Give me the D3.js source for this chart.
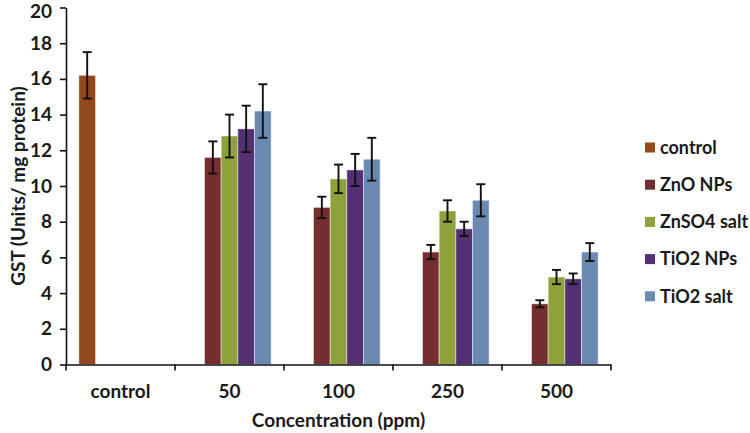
<!DOCTYPE html>
<html>
<head>
<meta charset="utf-8">
<script src="https://cdn.jsdelivr.net/npm/d3@7"></script>
<style>
  html, body { margin: 0; padding: 0; background: #fff; }
  svg { display: block; }
  text { font-family: Lato, "Open Sans", sans-serif; font-weight: bold; fill: #1a1a1a; }
</style>
</head>
<body>
<svg id="chart" width="750" height="433"></svg>
<script>
const categories = ["control", "50", "100", "250", "500"];
const seriesNames = ["control", "ZnO NPs", "ZnSO4 salt", "TiO2 NPs", "TiO2 salt"];
const seriesColors = ["#94481e", "#742e30", "#8ea13a", "#533073", "#6b8ab2"];
const controlValues  = [16.2, null, null, null, null];
const znoValues      = [null, 11.6, 8.8, 6.3, 3.4];
const znso4Values    = [null, 12.8, 10.4, 8.6, 4.9];
const tio2NpValues   = [null, 13.2, 10.9, 7.6, 4.8];
const tio2SaltValues = [null, 14.2, 11.5, 9.2, 6.3];
const controlErr  = [1.3, null, null, null, null];
const znoErr      = [null, 0.9, 0.6, 0.4, 0.2];
const znso4Err    = [null, 1.2, 0.8, 0.6, 0.4];
const tio2NpErr   = [null, 1.3, 0.9, 0.4, 0.3];
const tio2SaltErr = [null, 1.5, 1.2, 0.9, 0.5];
const yTicks = [0, 2, 4, 6, 8, 10, 12, 14, 16, 18, 20];
const yTitle = "GST (Units/ mg protein)";
const xTitle = "Concentration (ppm)";

(function () {
const allValues = [controlValues, znoValues, znso4Values, tio2NpValues, tio2SaltValues];
const allErr = [controlErr, znoErr, znso4Err, tio2NpErr, tio2SaltErr];

const data = [];
seriesNames.forEach((s, si) => {
  categories.forEach((c, ci) => {
    const v = allValues[si][ci];
    if (v != null) data.push({ series: s, si, cat: c, value: v, err: allErr[si][ci] });
  });
});

const svg = d3.select("#chart");
const pLeft = 66, pRight = 611, pTop = 7.5, pBottom = 364.5;

const y = d3.scaleLinear().domain([0, 20]).range([pBottom, pTop]);
const x0 = d3.scaleBand().domain(categories).range([pLeft, pRight]).paddingInner(0.236).paddingOuter(0.118);
const x1 = d3.scaleBand().domain(seriesNames).range([0, x0.bandwidth()]);
const color = d3.scaleOrdinal().domain(seriesNames).range(seriesColors);

// bars
svg.append("g").selectAll("rect").data(data).join("rect")
  .attr("x", d => x0(d.cat) + x1(d.series))
  .attr("y", d => y(d.value))
  .attr("width", x1.bandwidth())
  .attr("height", d => y(0) - y(d.value))
  .attr("fill", d => color(d.series))
  .attr("stroke", "rgba(255,255,255,0.45)")
  .attr("stroke-width", 1);

// error bars
const eb = svg.append("g").attr("stroke", "#111").attr("stroke-width", 1.9);
data.filter(d => d.err != null).forEach(d => {
  const cx = x0(d.cat) + x1(d.series) + x1.bandwidth() / 2;
  eb.append("line").attr("x1", cx).attr("x2", cx).attr("y1", y(d.value + d.err)).attr("y2", y(d.value - d.err));
  eb.append("line").attr("x1", cx - 4.5).attr("x2", cx + 4.5).attr("y1", y(d.value + d.err)).attr("y2", y(d.value + d.err));
  eb.append("line").attr("x1", cx - 4.5).attr("x2", cx + 4.5).attr("y1", y(d.value - d.err)).attr("y2", y(d.value - d.err));
});

// y axis
const yAxis = svg.append("g").attr("transform", `translate(${pLeft},0)`)
  .call(d3.axisLeft(y).tickValues(yTicks).tickSize(6).tickPadding(8).tickSizeOuter(0));
yAxis.select(".domain").attr("stroke", "#111").attr("stroke-width", 1.6);
yAxis.selectAll(".tick line").attr("stroke", "#111").attr("stroke-width", 1.6);
yAxis.selectAll(".tick text").attr("font-size", 19).attr("font-family", "Lato, sans-serif").attr("font-weight", "bold").attr("fill", "#1a1a1a");
yAxis.selectAll(".tick").filter(d => d === 20).select("text").attr("dy", "0.55em");

// x axis
const xAxis = svg.append("g").attr("transform", `translate(0,${pBottom})`)
  .call(d3.axisBottom(x0).tickSize(0).tickPadding(20).tickSizeOuter(0));
xAxis.select(".domain").attr("stroke", "#111").attr("stroke-width", 1.6);
xAxis.selectAll(".tick text").attr("font-size", 19).attr("font-family", "Lato, sans-serif").attr("font-weight", "bold").attr("fill", "#1a1a1a");
// category boundary ticks
const bounds = categories.map(c => x0(c) - x0.step() * x0.paddingOuter()).concat([pRight]);
svg.append("g").selectAll("line").data(bounds).join("line")
  .attr("x1", d => d).attr("x2", d => d)
  .attr("y1", pBottom).attr("y2", pBottom + 6)
  .attr("stroke", "#111").attr("stroke-width", 1.6);

// titles
svg.append("text").attr("x", (pLeft + pRight) / 2).attr("y", 427)
  .attr("text-anchor", "middle").attr("font-size", 19).text(xTitle);
svg.append("text").attr("transform", `translate(25,${(pTop + pBottom) / 2}) rotate(-90)`)
  .attr("text-anchor", "middle").attr("font-size", 19).text(yTitle);

// legend
const lg = svg.append("g");
seriesNames.forEach((s, i) => {
  const cy = 147.5 + i * 37.2;
  lg.append("rect").attr("x", 645).attr("y", cy - 5).attr("width", 10).attr("height", 10).attr("fill", color(s));
  lg.append("text").attr("x", 660).attr("y", cy).attr("dy", "0.35em").attr("font-size", 18).text(s);
});
})();
</script>
</body>
</html>
